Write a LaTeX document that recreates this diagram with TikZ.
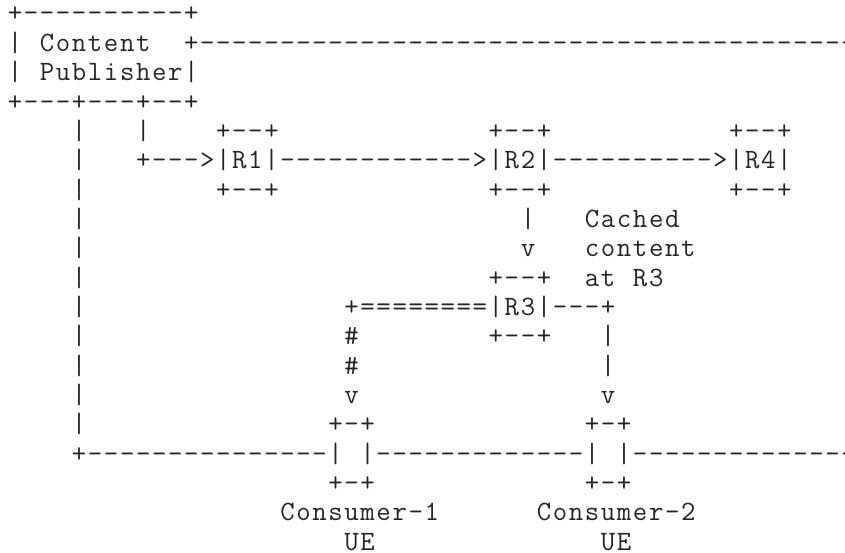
\documentclass[tikz,border=0pt]{standalone}
\usetikzlibrary{positioning}

% Character cell: column pitch 16.03pt, row pitch 29.35pt
\newcommand\artfont{\fontsize{28pt}{28pt}\selectfont\ttfamily}
\tikzset{
  glyph/.style={anchor=base, inner sep=0pt, outer sep=0pt, font=\artfont, text=black!85}
}
% one character at (row, column)
\newcommand\artglyph[4]{\node[glyph] (#1) at ({15pt+16.03pt*#3},{-22pt-29.35pt*#2}) {#4};}

\ExplSyntaxOn
\int_new:N \l__art_k_int
% a run of characters along one row: name, row, first column, characters
\NewDocumentCommand \artrow { m m m m }
 {
  \int_zero:N \l__art_k_int
  \str_map_inline:nn {#4}
   {
    \use:e
     {
      \exp_not:N \artglyph
       {#1-\int_use:N \l__art_k_int}
       {#2}
       {\int_eval:n {#3 + \l__art_k_int}}
       {\exp_not:n {##1}}
     }
    \int_incr:N \l__art_k_int
   }
 }
% a horizontal run of one repeated character: name, row, first column, last column, character
\NewDocumentCommand \arthline { m m m m m }
 {
  \int_step_inline:nnn {#3} {#4}
   { \artglyph {#1-##1} {#2} {##1} {#5} }
 }
% a vertical run of one repeated character: name, column, first row, last row, character
\NewDocumentCommand \artvline { m m m m m }
 {
  \int_step_inline:nnn {#3} {#4}
   { \artglyph {#1-##1} {##1} {#2} {#5} }
 }
\ExplSyntaxOff

\begin{document}
\begin{tikzpicture}
  \clip (0,0) rectangle (845pt,-553pt);
  \useasboundingbox (0,0) rectangle (845pt,-553pt);

  % Content Publisher box
  \artrow{pubtop}{0}{0}{+----------+}
  \artglyph{publ1}{1}{0}{|}
  \artrow{pubtxta}{1}{2}{Content}
  \artglyph{pubr1}{1}{11}{+}
  \arthline{toplink}{1}{12}{52}{-}
  \artglyph{publ2}{2}{0}{|}
  \artrow{pubtxtb}{2}{2}{Publisher}
  \artglyph{pubr2}{2}{11}{|}
  \artrow{pubbot}{3}{0}{+---+---+--+}

  % left drop to the consumer link
  \artvline{leftdrop}{4}{4}{14}{|}
  \artglyph{pubdrop}{4}{8}{|}

  % R1, R2, R4 row
  \artrow{r1top}{4}{13}{+--+}
  \artrow{r2top}{4}{30}{+--+}
  \artrow{r4top}{4}{45}{+--+}
  \artrow{tor1}{5}{8}{+--->|R1|}
  \arthline{r1r2}{5}{17}{28}{-}
  \artrow{r2}{5}{29}{>|R2|}
  \arthline{r2r4}{5}{34}{43}{-}
  \artrow{r4}{5}{44}{>|R4|}
  \artrow{r1bot}{6}{13}{+--+}
  \artrow{r2bot}{6}{30}{+--+}
  \artrow{r4bot}{6}{45}{+--+}

  % R2 down to R3, with the note
  \artglyph{r2r3a}{7}{32}{|}
  \artglyph{r2r3b}{8}{32}{v}
  \artrow{notea}{7}{36}{Cached}
  \artrow{noteb}{8}{36}{content}
  \artrow{notec}{9}{36}{at}
  \artrow{noted}{9}{39}{R3}

  % R3 and its two paths to the consumers
  \artrow{r3top}{9}{30}{+--+}
  \artglyph{cachedpath}{10}{21}{+}
  \arthline{cachedline}{10}{22}{29}{=}
  \artrow{r3}{10}{30}{|R3|---+}
  \artrow{r3bot}{11}{30}{+--+}
  \artglyph{hasha}{11}{21}{\#}
  \artglyph{hashb}{12}{21}{\#}
  \artglyph{toc1}{13}{21}{v}
  \artvline{r3c2}{37}{11}{12}{|}
  \artglyph{toc2}{13}{37}{v}

  % consumers on the bottom link
  \artrow{c1top}{14}{20}{+-+}
  \artrow{c2top}{14}{36}{+-+}
  \artglyph{botcorner}{15}{4}{+}
  \arthline{botlinka}{15}{5}{19}{-}
  \artglyph{c1l}{15}{20}{|}
  \artglyph{c1r}{15}{22}{|}
  \arthline{botlinkb}{15}{23}{35}{-}
  \artglyph{c2l}{15}{36}{|}
  \artglyph{c2r}{15}{38}{|}
  \arthline{botlinkc}{15}{39}{52}{-}
  \artrow{c1bot}{16}{20}{+-+}
  \artrow{c2bot}{16}{36}{+-+}
  \artrow{c1name}{17}{17}{Consumer-1}
  \artrow{c2name}{17}{33}{Consumer-2}
  \artrow{c1ue}{18}{21}{UE}
  \artrow{c2ue}{18}{37}{UE}
\end{tikzpicture}
\end{document}
